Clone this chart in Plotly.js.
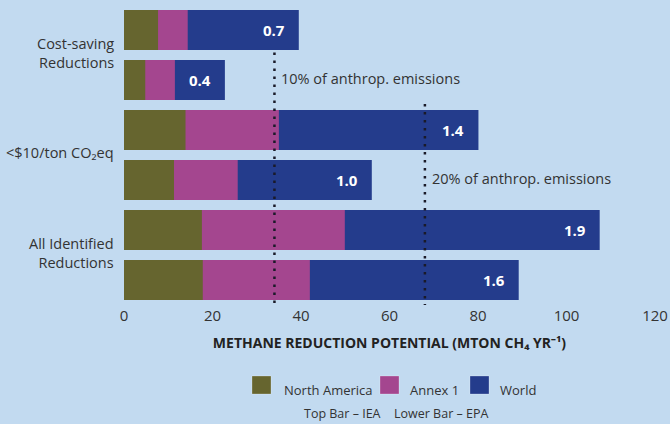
<!DOCTYPE html>
<html><head><meta charset="utf-8">
<script src="https://cdn.plot.ly/plotly-3.0.1.min.js"></script>
<style>html,body{margin:0;padding:0;background:#C2DAF0;}#chart{width:670px;height:424px;}</style>
</head><body><div id="chart"></div>
<script>
// Bar rows, top to bottom: IEA / EPA for each group
var rows = [0, 1, 2, 3, 4, 5];
var groupLabels = ['Cost-saving<br>Reductions', '&lt;$10/ton CO₂eq', 'All Identified<br>Reductions'];
var groupPositions = [0.5, 2.5, 4.5];
// cumulative extents (Mton CH4/yr): North America within Annex 1 within World
var northAmerica = [7.7, 4.8, 13.9, 11.3, 17.6, 17.8];
var annex1 = [14.4, 11.5, 35.0, 25.7, 49.9, 42.0];
var world = [39.5, 22.8, 80.1, 56.0, 107.5, 89.2];
var barLabels = ['0.7', '0.4', '1.4', '1.0', '1.9', '1.6'];
var seriesNames = ['North America', 'Annex 1', 'World'];
var seriesColors = ['#66652F', '#A4468F', '#243C8C'];
var refLines = [34, 68];
var refLabels = ['10% of anthrop. emissions', '20% of anthrop. emissions'];
var refLabelRows = [1, 3];
var xTicks = [0, 20, 40, 60, 80, 100, 120];

var FONT = 'Open Sans, sans-serif';
var traces = [
  {x: world, name: seriesNames[2], color: seriesColors[2]},
  {x: annex1, name: seriesNames[1], color: seriesColors[1]},
  {x: northAmerica, name: seriesNames[0], color: seriesColors[0]}
].map(function(s){
  return {type:'bar', orientation:'h', x:s.x, y:rows, name:s.name,
          marker:{color:s.color, line:{width:0}}, width:0.8, hoverinfo:'skip'};
});

var annotations = [];
rows.forEach(function(r,i){
  annotations.push({x:world[i], y:r, xref:'x', yref:'y', text:barLabels[i], showarrow:false,
    xanchor:'right', xshift:-12, font:{family:FONT, size:15, color:'#ffffff', weight:'bold'}});
});
refLines.forEach(function(v,i){
  annotations.push({x:v, y:refLabelRows[i], xref:'x', yref:'y', text:refLabels[i], showarrow:false,
    xanchor:'left', xshift:5, yshift:2, font:{family:FONT, size:14.5, color:'#333333'}});
});
// group (category) labels on the left
groupLabels.forEach(function(t,i){
  annotations.push({xref:'paper', yref:'y', x:0, y:groupPositions[i], xshift:-8, yshift:2.5,
    xanchor:'right', yanchor:'middle', align:'right', text:t, showarrow:false,
    font:{family:FONT, size:14.5, color:'#333333'}});
});

var shapes = [];
var lineTops = [0.45, 1.48];
refLines.forEach(function(v,i){
  shapes.push({type:'line', xref:'x', yref:'y', x0:v, x1:v, y0:lineTops[i], y1:5.55,
    line:{color:'#1a1a28', width:2.5, dash:'2.5px,5.5px'}});
});

// custom legend (pixel offsets from plot's bottom-left corner)
var legendX = [128, 256, 346];
var legendTextX = [158, 284, 374];
seriesNames.forEach(function(n,i){
  shapes.push({type:'rect', xref:'paper', yref:'paper', xsizemode:'pixel', ysizemode:'pixel',
    xanchor:0, yanchor:0, x0:legendX[i], x1:legendX[i]+19, y0:-89, y1:-71,
    fillcolor:seriesColors[i], line:{width:1, color:'rgba(255,255,255,0.25)'}});
  annotations.push({xref:'paper', yref:'paper', x:0, y:0, xshift:legendTextX[i], yshift:-85,
    xanchor:'left', yanchor:'middle', text:n, showarrow:false,
    font:{family:FONT, size:13, color:'#333333'}});
});
annotations.push({xref:'paper', yref:'paper', x:0, y:0, xshift:178, yshift:-108,
  xanchor:'left', yanchor:'middle', text:'Top Bar – IEA', showarrow:false,
  font:{family:FONT, size:12.5, color:'#333333'}});
annotations.push({xref:'paper', yref:'paper', x:0, y:0, xshift:268, yshift:-108,
  xanchor:'left', yanchor:'middle', text:'Lower Bar – EPA', showarrow:false,
  font:{family:FONT, size:12.5, color:'#333333'}});

var layout = {
  width:670, height:424,
  margin:{l:124, r:15, t:5, b:119},
  paper_bgcolor:'#C2DAF0', plot_bgcolor:'#C2DAF0',
  barmode:'overlay', showlegend:false,
  xaxis:{range:[0,120], tickvals:xTicks, showgrid:false, zeroline:false, showline:false,
    ticks:'', tickfont:{family:FONT, size:15, color:'#333333'}, fixedrange:true,
    title:{text:'METHANE REDUCTION POTENTIAL (MTON CH₄ YR⁻¹)', standoff:14,
      font:{family:FONT, size:14, color:'#222222', weight:'bold'}}},
  yaxis:{range:[5.5,-0.5], showticklabels:false, showgrid:false,
    zeroline:false, showline:false, ticks:'', fixedrange:true},
  shapes:shapes, annotations:annotations
};
Plotly.newPlot('chart', traces, layout, {staticPlot:true});
</script></body></html>
